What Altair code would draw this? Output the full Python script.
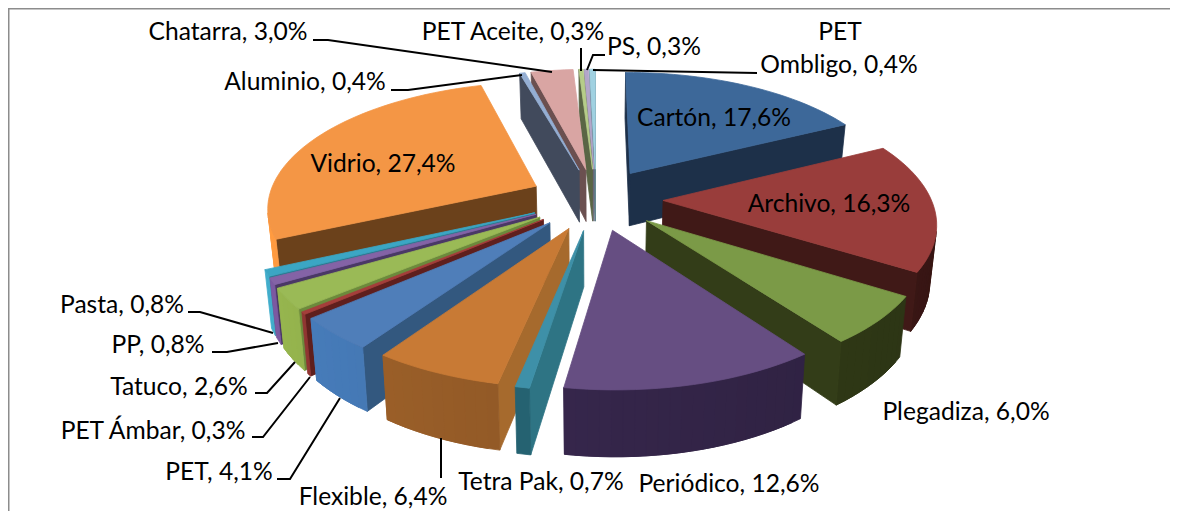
import math
import altair as alt

# ---- data -------------------------------------------------------------
names = ["Cartón", "Archivo", "Plegadiza", "Periódico", "Tetra Pak", "Flexible", "PET",
         "PET Ámbar", "Tatuco", "PP", "Pasta", "Vidrio", "Aluminio", "Chatarra",
         "PET Aceite", "PS", "PET Ombligo"]
values = [17.6, 16.3, 6.0, 12.6, 0.7, 6.4, 4.1, 0.3, 2.6, 0.8, 0.8, 27.4, 0.4, 3.0, 0.3, 0.3, 0.4]

# ---- styles -------------------------------------------------------------
top_colors = ["#3d6899", "#993d3b", "#7b9a47", "#664e82", "#3e90a8", "#c87a35", "#4f7eb9",
              "#a53e3b", "#9aba56", "#8463a6", "#3ba6c4", "#f49645", "#94aed3", "#d9a5a3",
              "#b6cd89", "#b3a6c9", "#a0d1e1"]
side_colors = ["#1d3049", "#401917", "#333d18", "#2e2140", "#2e7484", "#a66a2d", "#33587f",
               "#5f1f1d", "#6c8a3c", "#4a3866", "#2a7a90", "#6b411b", "#414a5c", "#6b5050",
               "#5a6545", "#6a6478", "#5d7f8a"]
wall_colors = ["#1d3049", "#401917", "#333d18", "#35264a", "#25606f", "#8f5826", "#4070a8",
               "#83302e", "#86a246", "#6f5090", "#3a9ab5", "#e88a3a", "#414a5c", "#6b5050",
               "#5a6545", "#6a6478", "#5d7f8a"]

label_font = "Lato"
label_size = 24.6

# ---- label and leader layout (in picture pixels) -------------------------
label_rows = {
    "Cartón": [(714, 119)], "Archivo": [(829, 205)], "Plegadiza": [(966, 413)],
    "Periódico": [(729, 485)], "Tetra Pak": [(541, 483)], "Flexible": [(373, 498)],
    "PET": [(219, 473)], "PET Ámbar": [(153, 432)], "Tatuco": [(179, 388)], "PP": [(158, 346)],
    "Pasta": [(122, 306)], "Vidrio": [(383, 165)], "Aluminio": [(305, 83)],
    "Chatarra": [(228, 33)], "PET Aceite": [(513, 33)], "PS": [(654, 48)],
    "PET Ombligo": [(840, 33), (839, 66)],
}
leaders = [
    [(313, 40), (328, 40), (552, 72)],
    [(391, 90), (408, 90), (522, 75)],
    [(581, 48), (581, 71)],
    [(605, 55), (593, 55), (587, 70)],
    [(757, 73), (593, 70)],
    [(188, 312), (200, 312), (273, 333)],
    [(212, 352), (227, 352), (278, 343)],
    [(255, 393), (267, 393), (295, 362)],
    [(252, 437), (263, 437), (310, 377)],
    [(277, 479), (290, 479), (340, 398)],
    [(441, 438), (441, 478)],
]
frame = [[(1178, 8), (8, 8), (8, 519)]]

# ---- pie geometry ---------------------------------------------------------
CX, CY, A, B, PERSP, EXPLODE, DEPTH, CONVERGE = 596, 199, 268, 124, 0.155, 0.25, 54, 0.98


def project(px, pz):
    s = 1 / (1 + PERSP * pz)
    return CX + A * px * s, CY - B * pz * s, s


def shade(hex_color, f):
    rgb = [int(hex_color[i:i + 2], 16) for i in (1, 3, 5)]
    return "#" + "".join(f"{min(255, int(c * f)):02x}" for c in rgb)


def feature(ring, color):
    return {"type": "Feature", "properties": {"c": color},
            "geometry": {"type": "Polygon", "coordinates": [[list(p) for p in ring] + [list(ring[0])]]}}


total = sum(values)
slices = []
cum = 0.0
for i, v in enumerate(values):
    a0 = cum / total * 2 * math.pi
    cum += v
    a1 = cum / total * 2 * math.pi
    slices.append((i, a0, a1, (a0 + a1) / 2))
slices.sort(key=lambda t: -math.cos(t[3]))

features = []
for i, a0, a1, mid in slices:
    ox, oz = EXPLODE * math.sin(mid), EXPLODE * math.cos(mid)
    n = max(1, int((a1 - a0) / math.radians(2)))
    angles = [a0 + (a1 - a0) * k / n for k in range(n + 1)]
    plane = [(ox, oz, None)] + [(ox + math.sin(t), oz + math.cos(t), t) for t in angles]
    tops, bottoms = [], []
    for px, pz, _ in plane:
        x, y, s = project(px, pz)
        tops.append((x, y))
        bottoms.append((CX + (x - CX) * CONVERGE, y + DEPTH * s))
    count = len(plane)
    # paint faces so that each outer band runs under the following one: no seams
    for j in range(count):
        k = (j + 1) % count
        quad = [tops[j], tops[k], bottoms[k], bottoms[j]]
        area = sum(quad[m][0] * quad[(m + 1) % 4][1] - quad[(m + 1) % 4][0] * quad[m][1] for m in range(4))
        if area >= 0:
            continue
        if plane[j][2] is None or plane[k][2] is None:
            color = side_colors[i]
        else:
            color = shade(wall_colors[i], 1 - 0.14 * math.sin((plane[j][2] + plane[k][2]) / 2))
            if 1 <= j < count - 2:
                # run on beneath the next band
                nxt = j + 2
                quad = [tops[j], tops[k], tops[nxt], bottoms[nxt], bottoms[k], bottoms[j]]
        features.append(feature(quad, color))
    features.append(feature(tops, top_colors[i]))

label_table = []
for name, v in zip(names, values):
    text = f"{name}, {v:.1f}%".replace(".", ",")
    rows = label_rows[name]
    if len(rows) == 2:
        first, rest = text.split(" ", 1)
        parts = [first, rest]
    else:
        parts = [text]
    for part, (lx, ly) in zip(parts, rows):
        label_table.append({"label": part, "lon": lx, "lat": ly})


def lines(paths):
    return [{"type": "Feature", "properties": {},
             "geometry": {"type": "LineString", "coordinates": [list(p) for p in path]}} for path in paths]


# ---- chart ----------------------------------------------------------------
proj = alt.Projection(type="identity", scale=1, translate=[-8, -8])

pie = alt.Chart(alt.Data(values=features)).mark_geoshape(strokeWidth=0.8, opacity=1).encode(
    fill=alt.Fill("properties.c:N", scale=None),
    stroke=alt.Stroke("properties.c:N", scale=None),
).project(**proj.to_dict())

leader_layer = alt.Chart(alt.Data(values=lines(leaders))).mark_geoshape(
    filled=False, stroke="#000000", strokeWidth=2).project(**proj.to_dict())

frame_layer = alt.Chart(alt.Data(values=lines(frame))).mark_geoshape(
    filled=False, stroke="#8c8c8c", strokeWidth=3).project(**proj.to_dict())

text_layer = alt.Chart(alt.Data(values=label_table)).mark_text(
    font=label_font, fontSize=label_size, color="#000000", align="center", baseline="middle"
).encode(
    longitude="lon:Q", latitude="lat:Q", text="label:N"
).project(**proj.to_dict())

chart = alt.layer(frame_layer, pie, leader_layer, text_layer).properties(
    width=1162, height=503, padding=0
).configure_view(stroke=None)

chart.save("out.html", embed_options={"renderer": "svg", "actions": False})
